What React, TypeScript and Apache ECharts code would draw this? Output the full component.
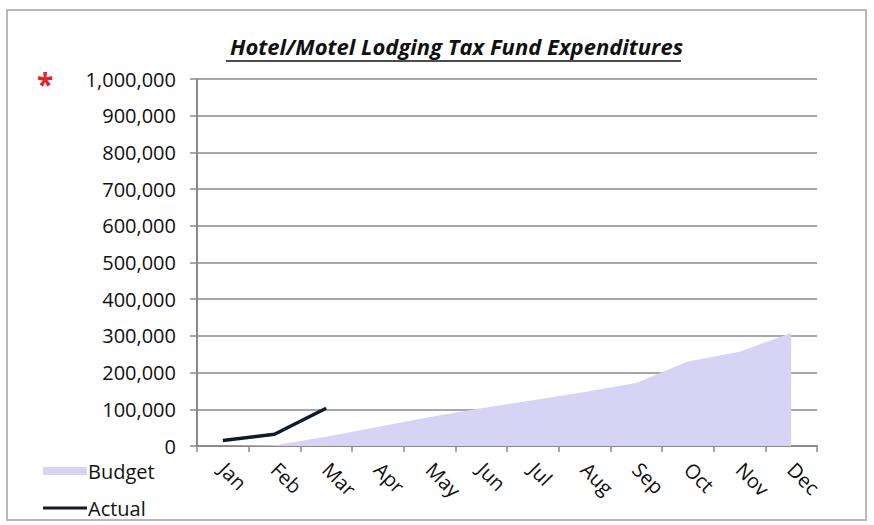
import React, { useEffect, useRef } from "react";
import * as echarts from "echarts";

const months = ["Jan", "Feb", "Mar", "Apr", "May", "Jun", "Jul", "Aug", "Sep", "Oct", "Nov", "Dec"];
const budget = [0, 2000, 25000, 52000, 79000, 103000, 125000, 147000, 172000, 230000, 257000, 308000];
const actual = [15000, 32000, 103000, null, null, null, null, null, null, null, null, null];
const yMin = 0;
const yMax = 1000000;
const yStep = 100000;

const FONT = "'Open Sans', 'Noto Sans', sans-serif";

export default function App() {
  const ref = useRef<HTMLDivElement>(null);
  useEffect(() => {
    if (!ref.current) return;
    const chart = echarts.init(ref.current, null, { renderer: "svg" });
    chart.setOption({
      animation: false,
      backgroundColor: "#ffffff",
      title: {
        text: "Hotel/Motel Lodging Tax Fund Expenditures",
        left: 225,
        top: 30,
        textStyle: {
          fontFamily: FONT,
          fontSize: 22,
          fontWeight: "bold",
          fontStyle: "italic",
          color: "#111111",
        },
      },
      graphic: [
        {
          type: "rect",
          shape: { x: 7, y: 10, width: 859, height: 510 },
          style: { fill: "none", stroke: "#b8b8b8", lineWidth: 2 },
          silent: true,
        },
        {
          type: "line",
          shape: { x1: 226, y1: 61, x2: 681, y2: 61 },
          style: { stroke: "#111111", lineWidth: 1.5 },
          silent: true,
        },
        {
          type: "text",
          left: 37,
          top: 68,
          style: { text: "*", fill: "#e8202a", font: "bold 30px " + FONT },
          silent: true,
        },
      ],
      legend: [
        {
          data: [{ name: "Budget", icon: "rect" }],
          left: 38,
          top: 456,
          itemWidth: 44,
          itemHeight: 8,
          itemGap: 6,
          textStyle: { fontFamily: FONT, fontSize: 20, color: "#111111", padding: [0, 0, 0, -4] },
        },
        {
          data: [{ name: "Actual", icon: "rect" }],
          left: 38,
          top: 493,
          itemWidth: 44,
          itemHeight: 3,
          textStyle: { fontFamily: FONT, fontSize: 20, color: "#111111", padding: [0, 0, 0, -4] },
        },
      ],
      grid: { left: 197, right: 57, top: 79, bottom: 79, containLabel: false },
      xAxis: {
        type: "category",
        data: months,
        boundaryGap: true,
        axisLine: { show: true, lineStyle: { color: "#8a8a8a", width: 2 } },
        axisTick: { show: true, length: 6, alignWithLabel: false, lineStyle: { color: "#8a8a8a", width: 1.5 } },
        axisLabel: {
          rotate: -45,
          margin: 20,
          interval: 0,
          fontFamily: FONT,
          fontSize: 20,
          color: "#111111",
        },
        splitLine: { show: false },
      },
      yAxis: {
        type: "value",
        min: yMin,
        max: yMax,
        interval: yStep,
        axisLine: { show: true, lineStyle: { color: "#8a8a8a", width: 2 } },
        axisTick: { show: true, length: 7, lineStyle: { color: "#8a8a8a", width: 1.5 } },
        axisLabel: {
          margin: 21,
          fontFamily: FONT,
          fontSize: 20,
          color: "#111111",
          formatter: (v: number) => v.toLocaleString("en-US"),
        },
        splitLine: { show: true, lineStyle: { color: "#8a8a8a", width: 1.5 } },
      },
      series: [
        {
          name: "Budget",
          type: "line",
          data: budget,
          symbol: "none",
          lineStyle: { width: 0, color: "#d6d3f5" },
          itemStyle: { color: "#d6d3f5" },
          areaStyle: { color: "#d6d3f5", opacity: 1 },
        },
        {
          name: "Actual",
          type: "line",
          data: actual,
          symbol: "none",
          lineStyle: { width: 3.5, color: "#0e1a30" },
          itemStyle: { color: "#0e1a30" },
        },
      ],
    });
    return () => chart.dispose();
  }, []);
  return (
    <div
      ref={ref}
      style={{ position: "fixed", left: 0, top: 0, width: 874, height: 525 }}
    />
  );
}
